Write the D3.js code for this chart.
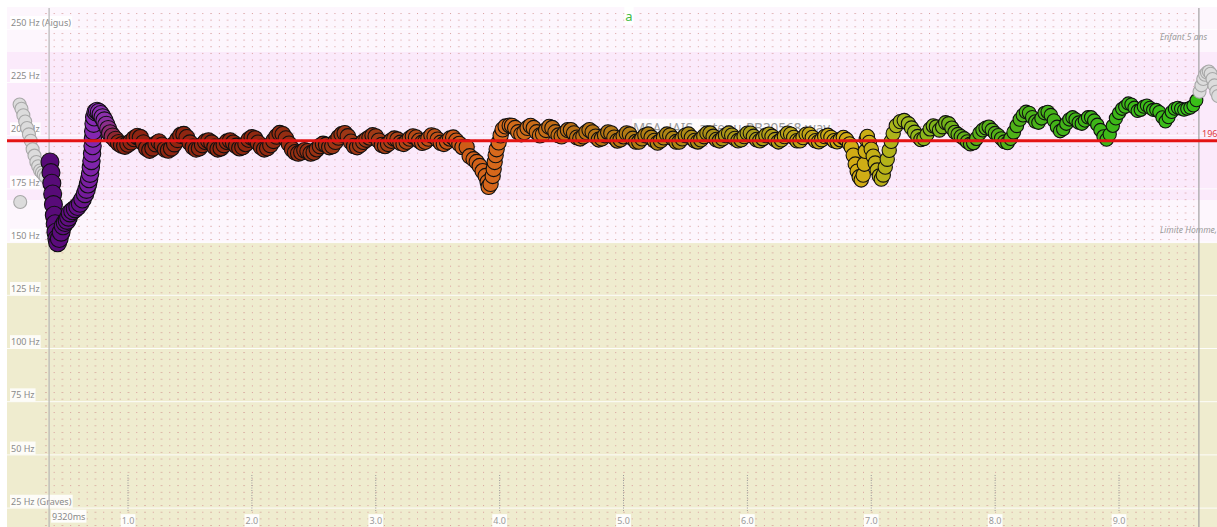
<!DOCTYPE html>
<html>
<head><meta charset="utf-8"/>
<script src="https://cdnjs.cloudflare.com/ajax/libs/d3/7.8.5/d3.min.js"></script>
<style>
body { margin: 0; background: #fff; overflow: hidden; }
svg { display: block; font-family: "Segoe UI", "Noto Sans", "Open Sans", sans-serif; }
</style>
</head>
<body>
<div id="chart"></div>
<script>

var width = 1217, height = 527;

// ---- data ----
var hzTicks = [25, 50, 75, 100, 125, 150, 175, 200, 225, 250];
var hzLabels = ["25 Hz (Graves)", "50 Hz", "75 Hz", "100 Hz", "125 Hz", "150 Hz", "175 Hz", "200 Hz", "225 Hz", "250 Hz (Aigus)"];
var secTicks = [1, 2, 3, 4, 5, 6, 7, 8, 9];
var bandEdgesHz = [258.8, 237.7, 168.1, 147.9, 0];
var refPitch = 196;
var selStart = 0.363, selEnd = 9.645;
var selLabel = "9320ms";
var fileName = "MSA_JAIS_a_tenu-PB30568.wav";
var vowel = "a";
var rangeNotes = ["Enfant 5 ans", "Limite Homme,"];
var rangeNotesHz = [244.5, 154];

// frames outside the selection (grey)
var leadInTimes = [0.125, 0.14, 0.155, 0.17, 0.185, 0.20, 0.215, 0.23, 0.245, 0.26, 0.275, 0.29, 0.305, 0.32, 0.335];
var leadInHz    = [213, 211, 208, 205, 202, 199, 196, 192, 189, 186, 184, 182, 181, 180, 179];
var strayTimes = [0.13];
var strayHz    = [167.2];
var tailTimes = [9.665, 9.68, 9.695, 9.71, 9.725, 9.74, 9.755, 9.77, 9.785, 9.80];
var tailHz    = [222, 225, 227, 228, 228.5, 227.5, 225, 222, 219, 217];

// attack (purple)
var onsetTimes = [0.370, 0.378, 0.385, 0.392, 0.398, 0.405, 0.412, 0.418, 0.425, 0.432, 0.445, 0.46, 0.476, 0.492, 0.508,
  0.52, 0.532, 0.552, 0.573, 0.593, 0.613, 0.633, 0.653, 0.665, 0.677, 0.686, 0.694, 0.700, 0.705, 0.710, 0.714, 0.717,
  0.719, 0.722, 0.727, 0.738, 0.75, 0.765, 0.78, 0.795, 0.81, 0.825, 0.84, 0.855];
var onsetHz = [186, 181, 176, 171, 166, 161, 157, 153, 150, 148, 150, 153, 156, 157.5, 158.5,
  160, 162, 163, 164, 165, 166.5, 168.5, 171, 173, 175.5, 178, 180.5, 183.5, 186.5, 190, 193.5, 197,
  200.5, 204, 207, 209.5, 210, 209.5, 208.5, 207, 205.5, 203.5, 201.5, 199.5];

// held vowel, one value every 25 ms
var hop = 0.025;
var sustainAStart = 0.875;
var sustainAHz = [198, 196.5, 195, 194, 193.5, 194.5,
  195.5, 197, 198, 197.5, 195, 192.5, 191.5, 192.5, 194.5, 195.5,
  194, 192, 191.5, 192.5, 194.5, 196.5, 198.5, 199, 197.5, 195,
  193, 192, 192.5, 194, 195.5, 196, 195, 193, 192, 192.5,
  194, 195.5, 196, 195, 193.5, 192.5, 193, 194.5, 196.5, 197.5,
  197, 195, 193, 192, 192.5, 194, 196, 198, 199.5, 199,
  197, 194.5, 192, 190.5, 190, 190.5, 191.5, 191, 190, 190.5,
  192, 193.5, 194.5, 194, 193, 193.5, 195.5, 197.5, 199, 199.5,
  198, 195.5, 193.5, 193, 194, 195.5, 196.5, 197.5, 198.5, 198,
  196, 194, 193.5, 194.5, 196, 197, 196.5, 195, 194.5, 195.5,
  197, 198, 197.5, 196, 195, 195.5, 197, 198.5, 198, 196.5,
  195, 194.5, 195.5, 197, 197.5, 196, 194.5, 193];

var dipATimes = [3.734, 3.758, 3.79, 3.815, 3.839, 3.863, 3.887, 3.903, 3.911, 3.927, 3.944, 3.952, 3.96, 3.968, 3.976,
  3.992, 4.008, 4.024, 4.048, 4.081];
var dipAHz = [193, 188.7, 187.3, 186, 184.1, 181.7, 179.4, 176.6, 174.3, 175.7, 179.4, 182.7, 186, 189.2, 192,
  195.2, 198.5, 201.3, 202.7, 203.1];

var sustainBStart = 4.1;
var sustainBHz = [203, 202, 200, 199, 200, 202, 203, 202, 200, 198.5, 199, 201, 202.5, 202, 200, 198.5,
  198, 199.5, 201, 201, 199.5, 197.5, 197, 198, 200, 201, 200, 198, 196.5, 197, 198.5, 200, 199.5, 197.5, 196, 196.5,
  198, 199.5, 199, 197, 195.5, 195.5, 197, 198.5, 199, 197.5, 196, 195, 196, 197.5, 199, 198.5, 197, 195.5, 195.5, 197,
  198.5, 199, 197.5, 196,
  195.5, 196.5, 198, 199.5, 199.5, 198, 196.5, 196, 197, 198.5, 199.5, 198.5, 197, 196, 196.5, 198, 199.5, 199.5, 198, 196.5,
  196, 197, 198.5, 199, 198, 196.5, 195.5, 196.5, 198, 199.5, 199, 197.5, 196, 196, 197.5, 199, 199, 197.5, 196, 195.5,
  196.5, 198, 198.5, 197.5, 196, 195.5, 196.5, 197.5, 196.5, 194.5];

var dipBTimes = [6.839, 6.855, 6.871, 6.887, 6.903, 6.919, 6.935, 6.944, 6.952, 6.960, 6.968, 6.984, 7.0, 7.016, 7.032,
  7.048, 7.065, 7.081, 7.097, 7.113, 7.129, 7.145, 7.161, 7.177, 7.202, 7.234, 7.266];
var dipBHz = [192.9, 189.2, 185, 181.7, 179, 177.6, 179.9, 185, 191, 196.6, 198, 195.2, 192, 188.7, 185.5,
  182.2, 179.4, 178, 179.9, 183.6, 187.3, 191.5, 195.7, 199.4, 203.1, 205, 205.5];

var sustainCStart = 7.3;
var sustainCHz = [204, 202, 200, 198, 196.5, 197, 199, 201.5, 203, 202.5, 201, 202.5, 204.5, 204, 202, 200,
  199, 198, 197, 195.5, 194.5, 195, 197, 199.5, 201, 202, 202.5, 201, 199.5, 198.5, 197, 195.5, 195, 197, 200, 203,
  206, 208, 209.5, 209, 207, 205, 204.5, 206.5, 209, 209.5, 208, 205.5, 202.5, 200.5,
  201.5, 204, 206, 207, 206, 204.5, 204, 205.5, 207, 207, 205.5, 203.5,
  201, 198, 196.5, 199,
  203, 206.5, 209, 211, 212, 213.5, 213, 211.5, 210, 210.5,
  212, 212.5, 211.5, 210.5, 210.5, 209.5, 207, 205, 207,
  209.5, 211, 211.5, 211, 210.5, 211, 211.5, 212.5, 215, 219];

// colour of the frames along time
var colorStopTimes = [0.36, 0.62, 0.74, 0.82, 0.92, 2.0, 3.0, 3.6, 4.0, 4.6, 5.3, 6.0, 6.9, 7.3, 7.8, 8.6, 9.7];
var colorStops = ["#560a76", "#661088", "#8a2cb8", "#8c30aa", "#8e2412", "#902810", "#a03a16", "#c85616", "#d86a1c",
  "#b86e14", "#b08214", "#a89a18", "#d4ac14", "#9cb81c", "#5cb018", "#40b418", "#38c018"];

// ---- build frames ----
var frames = [];
function addFrames(ts, hs) { ts.forEach(function(t, i) { frames.push({t: t, hz: hs[i]}); }); }
function addRun(start, hs) { hs.forEach(function(h, i) { frames.push({t: start + i * hop, hz: h}); }); }
addFrames(strayTimes, strayHz);
addFrames(leadInTimes, leadInHz);
addFrames(onsetTimes, onsetHz);
addRun(sustainAStart, sustainAHz);
addFrames(dipATimes, dipAHz);
addRun(sustainBStart, sustainBHz);
addFrames(dipBTimes, dipBHz);
addRun(sustainCStart, sustainCHz);
addFrames(tailTimes, tailHz);

// ---- scales ----
var x = d3.scaleLinear().domain([1, 9]).range([128, 1119]);
var y = d3.scaleLinear().domain([25, 250]).range([504.6, 25.8]);
var color = d3.scaleLinear().domain(colorStopTimes).range(colorStops).clamp(true);
var radius = d3.scaleLinear().domain([0.36, 0.8, 1.2, 7.0, 9.7]).range([9, 8.6, 8, 7.2, 6.4]).clamp(true);

var svg = d3.select("#chart").append("svg")
    .attr("width", width)
    .attr("height", height);

var plotLeft = 7, plotTop = 7;

// background bands
var bandFill = ["#fdf6fd", "#fbeafb", "#fdf6fd", "#efeccf"];
for (var b = 0; b < bandFill.length; b++) {
    svg.append("rect")
        .attr("x", plotLeft)
        .attr("y", Math.max(plotTop, y(bandEdgesHz[b])))
        .attr("width", width - plotLeft)
        .attr("height", Math.min(height, y(bandEdgesHz[b + 1])) - Math.max(plotTop, y(bandEdgesHz[b])))
        .attr("fill", bandFill[b]);
}

// white horizontal grid lines
svg.selectAll(".hline")
    .data(hzTicks)
    .enter().append("line")
    .attr("class", "hline")
    .attr("x1", plotLeft).attr("x2", width)
    .attr("y1", function(d) { return y(d) + 3.5; })
    .attr("y2", function(d) { return y(d) + 3.5; })
    .attr("stroke", "#ffffff")
    .attr("stroke-width", 1)
    .attr("opacity", 0.9);

// dotted background grid
var dotDx = (x(1) - x(0)) / 15, dotDy = (y(25) - y(50)) / 8;
var defs = svg.append("defs");
var pat = defs.append("pattern")
    .attr("id", "dots")
    .attr("patternUnits", "userSpaceOnUse")
    .attr("x", x(0)).attr("y", y(25) + 0.5)
    .attr("width", dotDx * 2).attr("height", dotDy);
pat.append("rect").attr("x", 0).attr("y", 0).attr("width", 1).attr("height", 1).attr("fill", "#d89a9a");
pat.append("rect").attr("x", dotDx).attr("y", 0).attr("width", 1).attr("height", 1).attr("fill", "#cc8282");
svg.append("rect")
    .attr("x", 43).attr("y", 8)
    .attr("width", 1197 - 43).attr("height", height - 8)
    .attr("fill", "url(#dots)");

// helper: text with a white box behind it
function boxedText(g, tx, ty, str, opts) {
    var grp = g.append("g");
    var t = grp.append("text")
        .attr("x", tx).attr("y", ty)
        .attr("dy", "0.35em")
        .attr("text-anchor", opts.anchor || "start")
        .style("font-size", opts.size + "px")
        .style("font-style", opts.italic ? "italic" : "normal")
        .attr("fill", opts.fill)
        .text(str);
    if (opts.box) {
        var bb = t.node().getBBox();
        grp.insert("rect", "text")
            .attr("x", bb.x - 1).attr("y", bb.y)
            .attr("width", bb.width + 2).attr("height", bb.height)
            .attr("fill", "#ffffff")
            .attr("opacity", opts.box);
    }
    return grp;
}

// frequency labels
hzTicks.forEach(function(d, i) {
    boxedText(svg, 11, y(d) - 3, hzLabels[i], {size: 9, fill: "#8a8a8a", box: 0.85});
});

// range notes on the right
rangeNotes.forEach(function(d, i) {
    boxedText(svg, 1160, y(rangeNotesHz[i]), d, {size: 8.5, fill: "#9a9a9a", italic: true});
});

// time ticks at the bottom
svg.selectAll(".xtick")
    .data(secTicks)
    .enter().append("line")
    .attr("class", "xtick")
    .attr("x1", function(d) { return x(d); })
    .attr("x2", function(d) { return x(d); })
    .attr("y1", 475).attr("y2", 512)
    .attr("stroke", "#9a9a9a")
    .attr("stroke-dasharray", "1,1.5");
secTicks.forEach(function(d) {
    boxedText(svg, x(d), 521, d.toFixed(1), {size: 9, fill: "#9a9a9a", anchor: "middle", box: 0.9});
});

// selection boundaries
svg.append("line")
    .attr("x1", x(selStart)).attr("x2", x(selStart))
    .attr("y1", 8).attr("y2", height)
    .attr("stroke", "#b4b4b4").attr("stroke-width", 1.2);
svg.append("line")
    .attr("x1", x(selEnd)).attr("x2", x(selEnd))
    .attr("y1", 8).attr("y2", height)
    .attr("stroke", "#a0a0a0").attr("stroke-width", 1.2);
boxedText(svg, x(selStart) + 3, 516.5, selLabel, {size: 9, fill: "#8a8a8a", box: 0.9});

// vowel label at the top
boxedText(svg, 629, 16, vowel, {size: 13, fill: "#44bb44", anchor: "middle", box: 1});

// file name (under the frames)
boxedText(svg, 633, 128, fileName, {size: 13.5, fill: "#9a9a9a", box: 0.8});

// pitch frames
svg.append("g")
    .selectAll("circle")
    .data(frames)
    .enter().append("circle")
    .attr("cx", function(d) { return x(d.t); })
    .attr("cy", function(d) { return y(d.hz); })
    .attr("r", function(d) {
        var out = d.t < selStart || d.t > selEnd;
        return out ? 6.5 : radius(d.t);
    })
    .attr("fill", function(d) {
        var out = d.t < selStart || d.t > selEnd;
        return out ? "#dcdcdc" : color(d.t);
    })
    .attr("stroke", function(d) {
        var out = d.t < selStart || d.t > selEnd;
        return out ? "#a8a8a8" : "#101010";
    })
    .attr("stroke-width", 1.1);

// reference pitch line
svg.append("line")
    .attr("x1", plotLeft).attr("x2", width)
    .attr("y1", y(refPitch)).attr("y2", y(refPitch))
    .attr("stroke", "#e41414")
    .attr("stroke-width", 3);
boxedText(svg, 1202, y(refPitch) - 7, String(refPitch), {size: 9, fill: "#e03c3c"});

</script>
</body>
</html>
